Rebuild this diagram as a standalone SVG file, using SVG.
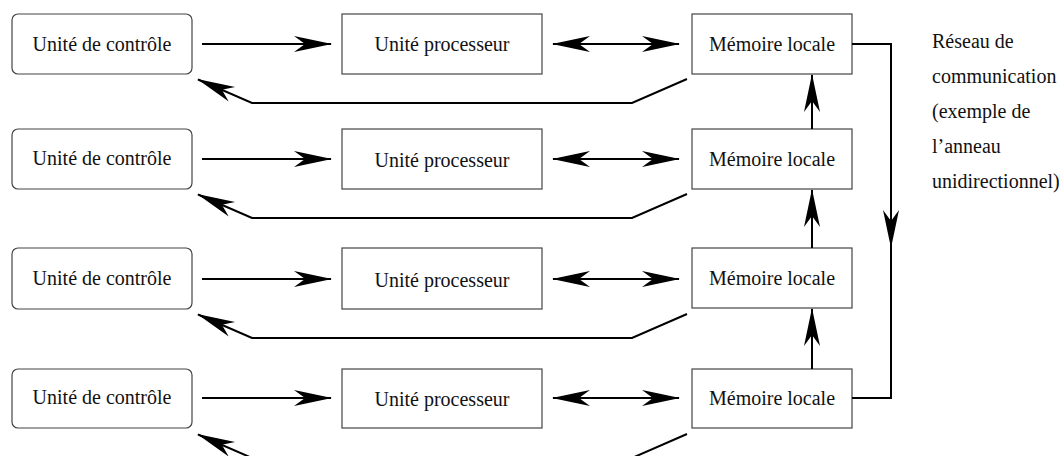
<svg xmlns="http://www.w3.org/2000/svg" width="1059" height="456" viewBox="0 0 1059 456">
  <style>
    .box { fill: #ffffff; stroke: #444444; stroke-width: 1.2; }
    .lbl { font-family: "Liberation Serif", "Times New Roman", serif; font-size: 20px; fill: #111111; }
    .mid { text-anchor: middle; }
    .con { fill: none; stroke: #000000; stroke-width: 2; }
  </style>
  <defs>
    <marker id="ah" viewBox="-39 -9 41 18" markerWidth="41" markerHeight="18" refX="0" refY="0" markerUnits="userSpaceOnUse" orient="auto-start-reverse">
      <path d="M1,0 L-37,-8 L-26,0 L-37,8 Z" fill="#000000"/>
    </marker>
  </defs>
  <rect width="1059" height="456" fill="#ffffff"/>

  <g id="ctrl1"><rect class="box" x="12" y="14" width="180" height="60" rx="6"/><text class="lbl mid" x="102" y="51">Unité de contrôle</text></g>
  <g id="proc1"><rect class="box" x="342" y="14" width="200" height="60"/><text class="lbl mid" x="442" y="51">Unité processeur</text></g>
  <g id="mem1"><rect class="box" x="692" y="14" width="160" height="60"/><text class="lbl mid" x="772" y="51">Mémoire locale</text></g>

  <g id="ctrl2"><rect class="box" x="12" y="129" width="180" height="60" rx="6"/><text class="lbl mid" x="102" y="165">Unité de contrôle</text></g>
  <g id="proc2"><rect class="box" x="342" y="129" width="200" height="60"/><text class="lbl mid" x="442" y="167">Unité processeur</text></g>
  <g id="mem2"><rect class="box" x="692" y="129" width="160" height="60"/><text class="lbl mid" x="772" y="166">Mémoire locale</text></g>

  <g id="ctrl3"><rect class="box" x="12" y="248" width="180" height="61" rx="6"/><text class="lbl mid" x="102" y="285">Unité de contrôle</text></g>
  <g id="proc3"><rect class="box" x="342" y="248" width="200" height="61"/><text class="lbl mid" x="442" y="287">Unité processeur</text></g>
  <g id="mem3"><rect class="box" x="692" y="248" width="160" height="60"/><text class="lbl mid" x="772" y="285">Mémoire locale</text></g>

  <g id="ctrl4"><rect class="box" x="12" y="369" width="180" height="59" rx="6"/><text class="lbl mid" x="102" y="404">Unité de contrôle</text></g>
  <g id="proc4"><rect class="box" x="342" y="369" width="200" height="59"/><text class="lbl mid" x="442" y="406">Unité processeur</text></g>
  <g id="mem4"><rect class="box" x="692" y="369" width="160" height="59"/><text class="lbl mid" x="772" y="405">Mémoire locale</text></g>

  <g id="ring-label">
    <text class="lbl" x="932" y="48">Réseau de</text>
    <text class="lbl" x="932" y="83">communication</text>
    <text class="lbl" x="932" y="118">(exemple de</text>
    <text class="lbl" x="932" y="153">l’anneau</text>
    <text class="lbl" x="932" y="188">unidirectionnel)</text>
  </g>

  <g id="connectors">
    <path class="con" d="M202,44 H331" marker-end="url(#ah)"/>
    <path class="con" d="M202,159 H331" marker-end="url(#ah)"/>
    <path class="con" d="M202,279 H331" marker-end="url(#ah)"/>
    <path class="con" d="M202,398 H331" marker-end="url(#ah)"/>
    <path class="con" d="M553,44 H679" marker-start="url(#ah)" marker-end="url(#ah)"/>
    <path class="con" d="M553,159 H679" marker-start="url(#ah)" marker-end="url(#ah)"/>
    <path class="con" d="M553,279 H679" marker-start="url(#ah)" marker-end="url(#ah)"/>
    <path class="con" d="M553,398 H679" marker-start="url(#ah)" marker-end="url(#ah)"/>
    <path class="con" d="M687,79 L632,103 H252 L198,79.5" marker-end="url(#ah)"/>
    <path class="con" d="M687,194 L632,218 H252 L198,194.5" marker-end="url(#ah)"/>
    <path class="con" d="M687,314 L632,338 H252 L198,314.5" marker-end="url(#ah)"/>
    <path class="con" d="M687,434 L632,458 H252 L198,434.5" marker-end="url(#ah)"/>
    <path class="con" d="M812,129 V75" marker-end="url(#ah)"/>
    <path class="con" d="M812,248 V190" marker-end="url(#ah)"/>
    <path class="con" d="M812,369 V309" marker-end="url(#ah)"/>
    <path class="con" d="M852,44 H891 V247" marker-end="url(#ah)"/>
    <path class="con" d="M891,246 V398 H852"/>
  </g>
</svg>
